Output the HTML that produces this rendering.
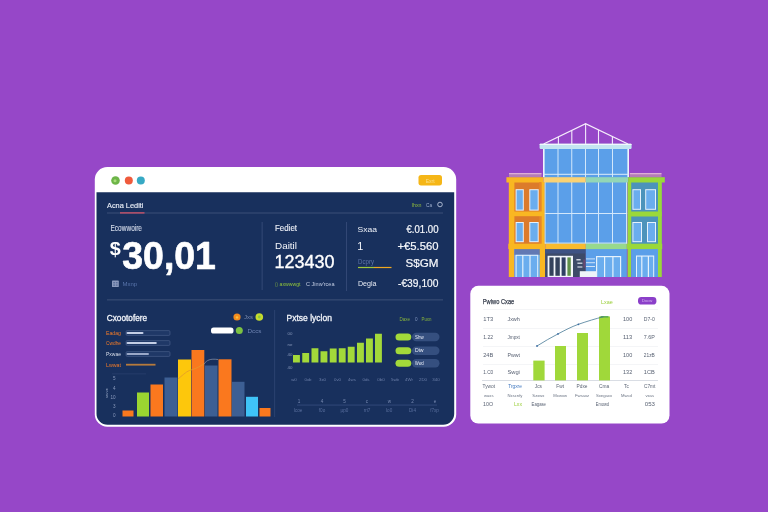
<!DOCTYPE html>
<html lang="en">
<head>
<meta charset="utf-8">
<title>Dashboard illustration</title>
<style>
  html, body { margin: 0; padding: 0; }
  body { width: 768px; height: 512px; overflow: hidden; background: #9647c8; }
  svg { display: block; position: absolute; left: 0; top: 0; }
  text { font-family: "Liberation Sans", sans-serif; }
</style>
</head>
<body>
<svg width="768" height="512" viewBox="0 0 768 512">
  <rect x="0" y="0" width="768" height="512" fill="#9647c8"/>

  <!-- ================= MAIN WINDOW ================= -->
  <g id="main-window">
    <rect x="94.8" y="167" width="361.4" height="259.7" rx="12.5" ry="12.5" fill="#ffffff"/>
    <path d="M96.5 192.2 H454.2 V413.7 a11 11 0 0 1 -11 11 H107.5 a11 11 0 0 1 -11 -11 Z" fill="#18305d"/>
    <!-- traffic lights -->
    <circle cx="115.5" cy="180.5" r="4.3" fill="#6db548"/>
    <circle cx="115" cy="180.8" r="1.5" fill="#a8dc7a"/>
    <circle cx="128.8" cy="180.5" r="4" fill="#ef5a3c"/>
    <circle cx="140.8" cy="180.5" r="4" fill="#37a9c4"/>
    <!-- yellow button -->
    <rect x="418.5" y="175" width="23.5" height="10.4" rx="2.6" fill="#f5b617"/>
    <text x="430.2" y="183" font-size="5" fill="#fbe08a" text-anchor="middle">Exrt</text>

    <!-- tab row -->
    <text x="107" y="207.8" font-size="7.4" fill="#e6ebf5" stroke="#e6ebf5" stroke-width="0.15" textLength="36.5" lengthAdjust="spacingAndGlyphs">Acna Lediti</text>
    <rect x="107" y="212.6" width="336" height="0.8" fill="#44577f"/>
    <rect x="120" y="212.3" width="24.5" height="1.2" fill="#e0566a"/>
    <text x="411.5" y="206.5" font-size="5.5" fill="#8fbb3c" textLength="10" lengthAdjust="spacingAndGlyphs">Ihxn</text>
    <text x="426" y="206.5" font-size="5.5" fill="#9fb0cf" textLength="6" lengthAdjust="spacingAndGlyphs">Ca</text>
    <circle cx="440" cy="204.5" r="2.3" fill="none" stroke="#c9d3e6" stroke-width="0.8"/>

    <!-- top-left stat -->
    <text x="110.5" y="231" font-size="8.2" fill="#d3dae9" stroke="#d3dae9" stroke-width="0.12" textLength="31.5" lengthAdjust="spacingAndGlyphs">Ecowwoire</text>
    <text x="109.8" y="254.8" font-size="19" font-weight="700" fill="#ffffff" textLength="11" lengthAdjust="spacingAndGlyphs">$</text>
    <text x="122.3" y="269" font-size="39" font-weight="700" fill="#ffffff" stroke="#ffffff" stroke-width="0.7" stroke-linejoin="round" textLength="93.6" lengthAdjust="spacingAndGlyphs">30,01</text>
    <rect x="112" y="280.6" width="6.8" height="6.4" rx="0.6" fill="#8b9abd"/>
    <rect x="113.2" y="282" width="1.8" height="1.4" fill="#5b6f9c"/>
    <rect x="115.8" y="282" width="1.8" height="1.4" fill="#5b6f9c"/>
    <rect x="113.2" y="284.4" width="1.8" height="1.4" fill="#5b6f9c"/>
    <rect x="115.8" y="284.4" width="1.8" height="1.4" fill="#5b6f9c"/>
    <text x="122.5" y="286" font-size="5.8" fill="#5874ab" textLength="14.6" lengthAdjust="spacingAndGlyphs">Mxnp</text>
    <rect x="261.7" y="222" width="0.8" height="68" fill="#3a4f7c"/>

    <!-- top-middle stat -->
    <text x="275" y="231.3" font-size="8.2" fill="#eef1f8" stroke="#eef1f8" stroke-width="0.12" textLength="22" lengthAdjust="spacingAndGlyphs">Fediet</text>
    <text x="275" y="248.8" font-size="9.2" fill="#f4f6fb" textLength="22" lengthAdjust="spacingAndGlyphs">Daitil</text>
    <text x="274.5" y="268" font-size="17.5" fill="#ffffff" stroke="#ffffff" stroke-width="0.35" textLength="60" lengthAdjust="spacingAndGlyphs">123430</text>
    <text x="275" y="285.5" font-size="5" fill="#8fc43a" textLength="25.5" lengthAdjust="spacingAndGlyphs">▯ axwwwgt</text>
    <text x="306" y="285.5" font-size="5" fill="#c3cde3" textLength="28.5" lengthAdjust="spacingAndGlyphs">C Jinw'rcea</text>
    <rect x="346.1" y="222" width="0.8" height="69" fill="#3a4f7c"/>

    <!-- top-right stat -->
    <text x="357.5" y="231.5" font-size="7.8" fill="#eef1f8" textLength="19.5" lengthAdjust="spacingAndGlyphs">Sxaa</text>
    <text x="438.5" y="232.5" font-size="10.6" fill="#f6f8fc" stroke="#f6f8fc" stroke-width="0.2" text-anchor="end" textLength="32" lengthAdjust="spacingAndGlyphs">€.01.00</text>
    <text x="357.3" y="249.7" font-size="10.8" fill="#f4f6fb">1</text>
    <text x="438.5" y="249.8" font-size="10.6" fill="#f6f8fc" stroke="#f6f8fc" stroke-width="0.2" text-anchor="end" textLength="41" lengthAdjust="spacingAndGlyphs">+€5.560</text>
    <text x="358" y="264" font-size="6.4" fill="#5e74a6" textLength="16" lengthAdjust="spacingAndGlyphs">Dcpry</text>
    <rect x="358" y="266.9" width="16" height="1.2" fill="#a2c83a"/>
    <rect x="374" y="266.9" width="17.5" height="1.2" fill="#f0a820"/>
    <text x="438.5" y="267" font-size="10.6" fill="#f6f8fc" stroke="#f6f8fc" stroke-width="0.2" text-anchor="end" textLength="33" lengthAdjust="spacingAndGlyphs">S$GM</text>
    <text x="358" y="286.3" font-size="7.6" fill="#e8ecf5" textLength="18.5" lengthAdjust="spacingAndGlyphs">Degla</text>
    <text x="438.5" y="287.3" font-size="10.6" fill="#f6f8fc" stroke="#f6f8fc" stroke-width="0.2" text-anchor="end" textLength="40.5" lengthAdjust="spacingAndGlyphs">-€39,100</text>

    <!-- horizontal divider -->
    <rect x="107" y="299.5" width="336" height="0.8" fill="#46597f"/>
    <rect x="274.3" y="310" width="0.8" height="107" fill="#2f4676"/>

    <!-- bottom-left panel -->
    <text x="106.8" y="320.6" font-size="8.3" fill="#f0f3f9" stroke="#f0f3f9" stroke-width="0.3" textLength="40.3" lengthAdjust="spacingAndGlyphs">Cxootofere</text>
    <circle cx="237" cy="317" r="3.6" fill="#f28a1e"/>
    <circle cx="237" cy="317.4" r="1.2" fill="#f8c23a"/>
    <text x="244" y="319.3" font-size="5.4" fill="#7787ab" textLength="9" lengthAdjust="spacingAndGlyphs">Jxs</text>
    <circle cx="259.3" cy="317" r="3.8" fill="#c4dc2e"/>
    <circle cx="259.3" cy="317" r="1.4" fill="#8cc63f"/>
    <rect x="211" y="327.5" width="22.5" height="6" rx="2.6" fill="#ffffff"/>
    <circle cx="239.3" cy="330.5" r="3.5" fill="#7cc242"/>
    <text x="247.5" y="332.5" font-size="5.4" fill="#6f84b3" textLength="14" lengthAdjust="spacingAndGlyphs">Dccs</text>
    <text x="106" y="335" font-size="5.6" fill="#f07a28" textLength="15" lengthAdjust="spacingAndGlyphs">Eadag</text>
    <rect x="126" y="330.6" width="44" height="4.8" rx="1.2" fill="#1f3867" stroke="#566b97" stroke-width="0.5"/>
    <rect x="126.5" y="332" width="17.0" height="2" rx="1" fill="#c4cfe6"/>
    <text x="106" y="345" font-size="5.6" fill="#f07a28" textLength="15" lengthAdjust="spacingAndGlyphs">Cwdhe</text>
    <rect x="126" y="340.6" width="44" height="4.8" rx="1.2" fill="#1f3867" stroke="#566b97" stroke-width="0.5"/>
    <rect x="126.5" y="342" width="30.30000000000001" height="2" rx="1" fill="#c4cfe6"/>
    <text x="106" y="356" font-size="5.6" fill="#d9deea" textLength="15" lengthAdjust="spacingAndGlyphs">Pxwae</text>
    <rect x="126" y="351.6" width="44" height="4.8" rx="1.2" fill="#1f3867" stroke="#566b97" stroke-width="0.5"/>
    <rect x="126.5" y="353" width="22.5" height="2" rx="1" fill="#9aa8c8"/>
    <text x="106" y="366.8" font-size="5.6" fill="#f07a28" textLength="15" lengthAdjust="spacingAndGlyphs">Lwwat</text>
    <rect x="126" y="363.8" width="29.5" height="1.8" fill="#b57a3c"/>
    <rect x="112" y="373.6" width="34" height="0.6" fill="#2e4573"/>
    <text x="115.5" y="380.3" font-size="4.6" fill="#8a9abd" text-anchor="end">5</text>
    <text x="115.5" y="389.8" font-size="4.6" fill="#8a9abd" text-anchor="end">4</text>
    <text x="115.5" y="398.8" font-size="4.6" fill="#8a9abd" text-anchor="end">10</text>
    <text x="115.5" y="407.8" font-size="4.6" fill="#8a9abd" text-anchor="end">3</text>
    <text x="115.5" y="417.3" font-size="4.6" fill="#8a9abd" text-anchor="end">0</text>
    <text transform="translate(107.6 398) rotate(-90)" font-size="3.6" fill="#9aa8c6">ssvvw</text>
    <rect x="122.5" y="410.5" width="11.0" height="6.0" fill="#fa781e"/>
    <rect x="137" y="392.5" width="12.0" height="24.0" fill="#9bd531"/>
    <rect x="150.5" y="384.5" width="12.5" height="32.0" fill="#fa781e"/>
    <rect x="164.5" y="377.5" width="13.0" height="39.0" fill="#3d5f94"/>
    <rect x="178" y="359.5" width="13.0" height="57.0" fill="#fdc70c"/>
    <rect x="191.5" y="350" width="12.8" height="66.5" fill="#fa781e"/>
    <rect x="205" y="365.5" width="12.5" height="51.0" fill="#3d5f94"/>
    <rect x="218.5" y="359.3" width="13.0" height="57.2" fill="#fa781e"/>
    <rect x="232" y="381.8" width="12.5" height="34.7" fill="#3d5f94"/>
    <rect x="246" y="396.8" width="12.0" height="19.7" fill="#3fc3f7"/>
    <rect x="259.5" y="408" width="11.0" height="8.5" fill="#fa781e"/>
    <path d="M178 379 C184 374 187 371 191 370 C198 368 200 366 204 364" fill="none" stroke="#e39a2c" stroke-width="0.8"/>
    <path d="M204 364 C207 360 210 358.5 218 359.5" fill="none" stroke="#8e97aa" stroke-width="0.7"/>

    <!-- bottom-right panel -->
    <text x="286.5" y="320.6" font-size="8.3" fill="#f0f3f9" stroke="#f0f3f9" stroke-width="0.3" textLength="45.5" lengthAdjust="spacingAndGlyphs">Pxtse lyclon</text>
    <text x="399.5" y="320.5" font-size="4.6" fill="#86b33c" textLength="10.5" lengthAdjust="spacingAndGlyphs">Daxe</text>
    <text x="415" y="320.5" font-size="4.6" fill="#7f93bd">0</text>
    <text x="421.5" y="320.5" font-size="4.6" fill="#86b33c" textLength="10" lengthAdjust="spacingAndGlyphs">Puxn</text>
    <text x="287.5" y="335.1" font-size="4.4" fill="#8595b8">00</text>
    <text x="287.5" y="345.6" font-size="4.4" fill="#8595b8">ne</text>
    <text x="287.5" y="356.1" font-size="4.4" fill="#8595b8">40</text>
    <text x="287.5" y="369.1" font-size="4.4" fill="#8595b8">40</text>
    <rect x="293" y="355" width="6.9" height="7.50" fill="#a3d93a"/>
    <rect x="302.25" y="353" width="6.9" height="9.50" fill="#a3d93a"/>
    <rect x="311.5" y="348.25" width="6.9" height="14.25" fill="#a3d93a"/>
    <rect x="320.5" y="351.25" width="6.9" height="11.25" fill="#a3d93a"/>
    <rect x="329.75" y="348.5" width="6.9" height="14.00" fill="#a3d93a"/>
    <rect x="338.75" y="348.25" width="6.9" height="14.25" fill="#a3d93a"/>
    <rect x="347.75" y="346.75" width="6.9" height="15.75" fill="#a3d93a"/>
    <rect x="357" y="342.75" width="6.9" height="19.75" fill="#a3d93a"/>
    <rect x="366" y="338.5" width="6.9" height="24.00" fill="#a3d93a"/>
    <rect x="375" y="333.75" width="6.9" height="28.75" fill="#a3d93a"/>
    <rect x="412" y="332.8" width="27.5" height="8.4" rx="4.2" fill="#354f7f"/>
    <rect x="395.5" y="333.4" width="15.8" height="7.2" rx="3.6" fill="#a3d93a"/>
    <text x="415" y="338.6" font-size="4.6" fill="#e8edf7" textLength="8.6" lengthAdjust="spacingAndGlyphs">Shw</text>
    <rect x="412" y="346.55" width="27.5" height="8.4" rx="4.2" fill="#354f7f"/>
    <rect x="395.5" y="347.15" width="15.8" height="7.2" rx="3.6" fill="#a3d93a"/>
    <text x="415" y="352.35" font-size="4.6" fill="#e8edf7" textLength="8.6" lengthAdjust="spacingAndGlyphs">Diw</text>
    <rect x="412" y="359.05" width="27.5" height="8.4" rx="4.2" fill="#354f7f"/>
    <rect x="395.5" y="359.65" width="15.8" height="7.2" rx="3.6" fill="#a3d93a"/>
    <text x="415" y="364.85" font-size="4.6" fill="#e8edf7" textLength="8.6" lengthAdjust="spacingAndGlyphs">Wwd</text>
    <text x="294" y="381.2" font-size="4.4" fill="#6b7ea8" text-anchor="middle">w0</text>
    <text x="308" y="381.2" font-size="4.4" fill="#6b7ea8" text-anchor="middle">0xb</text>
    <text x="322.5" y="381.2" font-size="4.4" fill="#6b7ea8" text-anchor="middle">3x0</text>
    <text x="337.5" y="381.2" font-size="4.4" fill="#6b7ea8" text-anchor="middle">0v0</text>
    <text x="352" y="381.2" font-size="4.4" fill="#6b7ea8" text-anchor="middle">4ws</text>
    <text x="366" y="381.2" font-size="4.4" fill="#6b7ea8" text-anchor="middle">0ds</text>
    <text x="381" y="381.2" font-size="4.4" fill="#6b7ea8" text-anchor="middle">0b0</text>
    <text x="395" y="381.2" font-size="4.4" fill="#6b7ea8" text-anchor="middle">5wb</text>
    <text x="409" y="381.2" font-size="4.4" fill="#6b7ea8" text-anchor="middle">4Wr</text>
    <text x="423" y="381.2" font-size="4.4" fill="#6b7ea8" text-anchor="middle">2D0</text>
    <text x="436" y="381.2" font-size="4.4" fill="#6b7ea8" text-anchor="middle">340</text>
    <rect x="297" y="404.7" width="140" height="0.7" fill="#3c5386"/>
    <text x="299" y="403" font-size="4.6" fill="#7789b1" text-anchor="middle">1</text>
    <text x="322" y="403" font-size="4.6" fill="#7789b1" text-anchor="middle">4</text>
    <text x="344.5" y="403" font-size="4.6" fill="#7789b1" text-anchor="middle">5</text>
    <text x="367" y="403" font-size="4.6" fill="#7789b1" text-anchor="middle">c</text>
    <text x="389.5" y="403" font-size="4.6" fill="#7789b1" text-anchor="middle">w</text>
    <text x="412.5" y="403" font-size="4.6" fill="#7789b1" text-anchor="middle">2</text>
    <text x="435" y="403" font-size="4.6" fill="#7789b1" text-anchor="middle">e</text>
    <text x="298" y="411.8" font-size="4.6" fill="#586d9c" text-anchor="middle">Icoe</text>
    <text x="322" y="411.8" font-size="4.6" fill="#586d9c" text-anchor="middle">f0o</text>
    <text x="344.5" y="411.8" font-size="4.6" fill="#586d9c" text-anchor="middle">µp0</text>
    <text x="367" y="411.8" font-size="4.6" fill="#586d9c" text-anchor="middle">rri7</text>
    <text x="389" y="411.8" font-size="4.6" fill="#586d9c" text-anchor="middle">Io0</text>
    <text x="412.5" y="411.8" font-size="4.6" fill="#586d9c" text-anchor="middle">Di4</text>
    <text x="434.5" y="411.8" font-size="4.6" fill="#586d9c" text-anchor="middle">f7xp</text>
  </g>

  <!-- ================= BUILDING ================= -->
  <g id="building">
    <path d="M543.6 144 L585.6 123.6 L628 144" fill="none" stroke="#f6eefc" stroke-width="1.25"/>
    <rect x="557.85" y="136.8" width="1.1" height="7.2" fill="#f3e9fb"/>
    <rect x="571.25" y="130.3" width="1.1" height="13.7" fill="#f3e9fb"/>
    <rect x="585.05" y="123.6" width="1.1" height="20.4" fill="#f3e9fb"/>
    <rect x="597.95" y="129.8" width="1.1" height="14.2" fill="#f3e9fb"/>
    <rect x="611.85" y="136.5" width="1.1" height="7.5" fill="#f3e9fb"/>
    <rect x="543" y="148" width="86" height="30" fill="#5b9fe9"/>
    <rect x="557.5" y="148" width="1" height="29" fill="#d2e7fb"/>
    <rect x="571.25" y="148" width="1" height="29" fill="#d2e7fb"/>
    <rect x="585.0" y="148" width="1" height="29" fill="#d2e7fb"/>
    <rect x="598.0" y="148" width="1" height="29" fill="#d2e7fb"/>
    <rect x="612.0" y="148" width="1" height="29" fill="#d2e7fb"/>
    <rect x="543" y="148" width="1.6" height="29" fill="#eef6fd"/>
    <rect x="627.4" y="148" width="1.6" height="29" fill="#eef6fd"/>
    <rect x="543" y="173.8" width="86" height="1" fill="#dcedfb"/>
    <rect x="539.6" y="143.7" width="92" height="5.2" rx="0.8" fill="#c4e5f1"/>
    <rect x="539.6" y="143.7" width="92" height="1.3" rx="0.6" fill="#f1f8fc"/>
    <rect x="509" y="173.4" width="32.5" height="3.6" fill="#b57db6"/>
    <rect x="509" y="173.2" width="32.5" height="1" fill="#ecc0dc"/>
    <rect x="629.8" y="173.4" width="31.7" height="3.6" fill="#b57db6"/>
    <rect x="629.8" y="173.2" width="31.7" height="1" fill="#ecc0dc"/>
    <rect x="509" y="182" width="35.5" height="62" fill="#dc7b2b"/>
    <rect x="628" y="182" width="33.6" height="62" fill="#4c93bb"/>
    <rect x="544.5" y="182" width="82.7" height="62" fill="#5b9fe9"/>
    <rect x="557.5" y="182" width="1" height="61.5" fill="#d2e7fb"/>
    <rect x="571.25" y="182" width="1" height="61.5" fill="#d2e7fb"/>
    <rect x="585.0" y="182" width="1" height="61.5" fill="#d2e7fb"/>
    <rect x="598.0" y="182" width="1" height="61.5" fill="#d2e7fb"/>
    <rect x="612.0" y="182" width="1" height="61.5" fill="#d2e7fb"/>
    <rect x="544.5" y="213" width="82.7" height="1" fill="#d2e7fb"/>
    <rect x="544.5" y="242.6" width="82.7" height="1.1" fill="#dcedfb"/>
    <rect x="544.4" y="182" width="1.1" height="62" fill="#dcedfb"/>
    <rect x="626.1" y="182" width="1.1" height="62" fill="#dcedfb"/>
    <rect x="506.4" y="177.2" width="37.2" height="5.3" fill="#f9b722"/>
    <rect x="543.6" y="177.2" width="42.2" height="5.3" fill="#fbd273"/>
    <rect x="585.8" y="177.2" width="42.4" height="5.3" fill="#93d6b6"/>
    <rect x="628.2" y="177.2" width="36.6" height="5.3" fill="#9ad83a"/>
    <rect x="508.8" y="182" width="5.6" height="95" fill="#f9b722"/>
    <rect x="539.2" y="182" width="2.4" height="62" fill="#e8862a"/>
    <rect x="541.6" y="182" width="2.9" height="62" fill="#f9b722"/>
    <rect x="509" y="211.5" width="35" height="4.7" fill="#f9b722"/>
    <rect x="515.6" y="189.2" width="8.2" height="21.4" fill="#e6f2fc"/>
    <rect x="516.6" y="190.2" width="6.2" height="19.4" fill="#6aadee"/>
    <rect x="529.3" y="189.2" width="9.4" height="21.4" fill="#e6f2fc"/>
    <rect x="530.3" y="190.2" width="7.4" height="19.4" fill="#6aadee"/>
    <rect x="515.6" y="222" width="8.2" height="20.2" fill="#e6f2fc"/>
    <rect x="516.6" y="223" width="6.2" height="18.2" fill="#6aadee"/>
    <rect x="529.3" y="222" width="9.4" height="20.2" fill="#e6f2fc"/>
    <rect x="530.3" y="223" width="7.4" height="18.2" fill="#6aadee"/>
    <rect x="627.6" y="182" width="3.6" height="95" fill="#9ad83a"/>
    <rect x="658" y="182" width="3.8" height="95" fill="#9ad83a"/>
    <rect x="628" y="211.5" width="33.6" height="5" fill="#9ad83a"/>
    <rect x="632.4" y="189.2" width="8.6" height="20.6" fill="#e6f2fc"/>
    <rect x="633.4" y="190.2" width="6.6" height="18.6" fill="#6aadee"/>
    <rect x="645.2" y="189.2" width="10.8" height="20.6" fill="#e6f2fc"/>
    <rect x="646.2" y="190.2" width="8.8" height="18.6" fill="#6aadee"/>
    <rect x="632.4" y="222" width="9.6" height="20.2" fill="#e6f2fc"/>
    <rect x="633.4" y="223" width="7.6" height="18.2" fill="#6aadee"/>
    <rect x="647" y="222" width="9.0" height="20.2" fill="#e6f2fc"/>
    <rect x="648" y="223" width="7.0" height="18.2" fill="#6aadee"/>
    <rect x="514.4" y="249" width="25.6" height="28" fill="#6aadee"/>
    <rect x="514.4" y="249" width="25.6" height="5.8" fill="#6279b3"/>
    <rect x="515.6" y="254.8" width="22.6" height="22.2" fill="#e6f2fc"/>
    <rect x="516.6" y="255.8" width="5.6" height="21.2" fill="#6aadee"/>
    <rect x="523.4" y="255.8" width="6.0" height="21.2" fill="#6aadee"/>
    <rect x="530.6" y="255.8" width="6.6" height="21.2" fill="#6aadee"/>
    <rect x="539.8" y="249" width="5.3" height="28" fill="#f9b722"/>
    <rect x="545.1" y="249" width="40.7" height="28" fill="#3d4b69"/>
    <rect x="545.1" y="249" width="40.7" height="4.5" fill="#3e5384"/>
    <rect x="547.6" y="255.8" width="25.4" height="21.2" fill="#f2f6fa"/>
    <rect x="549.4" y="257.4" width="4.2" height="18.4" fill="#33425c"/>
    <rect x="555.4" y="257.4" width="4.4" height="18.4" fill="#33425c"/>
    <rect x="561.6" y="257.4" width="4.0" height="18.4" fill="#2f3f63"/>
    <rect x="567.4" y="257.4" width="3.4" height="18.4" fill="#5f8f4a"/>
    <rect x="585.8" y="249" width="41" height="28" fill="#5b9fe9"/>
    <rect x="576.4" y="259.2" width="4.2" height="1.2" fill="#eef3f9"/>
    <rect x="577.4" y="262.6" width="5" height="1.2" fill="#dfe6f0"/>
    <rect x="577.4" y="266.4" width="5" height="1.2" fill="#cfd8e6"/>
    <rect x="583.6" y="259.5" width="1" height="8" fill="#8a4a78"/>
    <rect x="586" y="258.4" width="9" height="1" fill="#cfe3f8"/>
    <rect x="586" y="262.2" width="9" height="1" fill="#cfe3f8"/>
    <rect x="586" y="266" width="9" height="1" fill="#cfe3f8"/>
    <rect x="579.8" y="271.2" width="16.4" height="5.8" fill="#eef3f9"/>
    <rect x="596" y="256" width="25.2" height="21" fill="#e6f2fc"/>
    <rect x="597.2" y="257.2" width="6.8" height="19.8" fill="#6aadee"/>
    <rect x="605.2" y="257.2" width="7.1" height="19.8" fill="#6aadee"/>
    <rect x="613.5" y="257.2" width="6.5" height="19.8" fill="#6aadee"/>
    <rect x="631.2" y="249" width="26.8" height="28" fill="#5b9fe9"/>
    <rect x="636" y="255.5" width="18.2" height="21.5" fill="#e6f2fc"/>
    <rect x="637" y="256.6" width="4.2" height="20.4" fill="#6aadee"/>
    <rect x="642.4" y="256.6" width="5.4" height="20.4" fill="#6aadee"/>
    <rect x="649" y="256.6" width="4.2" height="20.4" fill="#6aadee"/>
    <rect x="508.3" y="243.7" width="37.2" height="5.4" fill="#f9b722"/>
    <rect x="545.5" y="243.7" width="40.3" height="5.4" fill="#fabb2e"/>
    <rect x="585.8" y="243.7" width="41" height="5.4" fill="#98d98c"/>
    <rect x="626.8" y="243.7" width="35.4" height="5.4" fill="#9ad83a"/>
  </g>

  <!-- ================= SIDE CARD ================= -->
  <g id="side-card">
    <rect x="470.3" y="285.8" width="199.2" height="137.8" rx="8" fill="#ffffff"/>
    <text x="482.8" y="304" font-size="7.6" fill="#363d4c" stroke="#363d4c" stroke-width="0.25" textLength="31.5" lengthAdjust="spacingAndGlyphs">Pwiwo Cxae</text>
    <text x="601" y="303.5" font-size="5.4" fill="#9bcf3c" textLength="11.7" lengthAdjust="spacingAndGlyphs">Lxae</text>
    <rect x="638" y="297.1" width="18.4" height="7.5" rx="3.4" fill="#8b3fc9"/>
    <text x="647.2" y="302.4" font-size="4.2" fill="#d9b9f2" text-anchor="middle">Dxcw</text>
    <rect x="483" y="309.3" width="175" height="0.6" fill="#eceef2"/>
    <rect x="483" y="328.09999999999997" width="175" height="0.6" fill="#eceef2"/>
    <rect x="483" y="346.09999999999997" width="175" height="0.6" fill="#eceef2"/>
    <rect x="483" y="364.3" width="175" height="0.6" fill="#eceef2"/>
    <rect x="482" y="380.1" width="176" height="0.7" fill="#c9ced8"/>
    <text x="483.2" y="320.6" font-size="5.6" fill="#596273" textLength="10" lengthAdjust="spacingAndGlyphs">1T3</text>
    <text x="507.4" y="320.6" font-size="5.6" fill="#596273" textLength="12.5" lengthAdjust="spacingAndGlyphs">Jxwh</text>
    <text x="623" y="320.6" font-size="5.6" fill="#596273" textLength="9.2" lengthAdjust="spacingAndGlyphs">100</text>
    <text x="643.8" y="320.6" font-size="5.6" fill="#596273" textLength="11" lengthAdjust="spacingAndGlyphs">D7-0</text>
    <text x="483.2" y="338.8" font-size="5.6" fill="#596273" textLength="10" lengthAdjust="spacingAndGlyphs">1.22</text>
    <text x="507.4" y="338.8" font-size="5.6" fill="#596273" textLength="12.5" lengthAdjust="spacingAndGlyphs">Jmpxt</text>
    <text x="623" y="338.8" font-size="5.6" fill="#596273" textLength="9.2" lengthAdjust="spacingAndGlyphs">113</text>
    <text x="643.8" y="338.8" font-size="5.6" fill="#596273" textLength="11" lengthAdjust="spacingAndGlyphs">7.6P</text>
    <text x="483.2" y="357.2" font-size="5.6" fill="#596273" textLength="10" lengthAdjust="spacingAndGlyphs">24B</text>
    <text x="507.4" y="357.2" font-size="5.6" fill="#596273" textLength="12.5" lengthAdjust="spacingAndGlyphs">Pwwt</text>
    <text x="623" y="357.2" font-size="5.6" fill="#596273" textLength="9.2" lengthAdjust="spacingAndGlyphs">100</text>
    <text x="643.8" y="357.2" font-size="5.6" fill="#596273" textLength="11" lengthAdjust="spacingAndGlyphs">21zB</text>
    <text x="483.2" y="373.9" font-size="5.6" fill="#596273" textLength="10" lengthAdjust="spacingAndGlyphs">1.C0</text>
    <text x="507.4" y="373.9" font-size="5.6" fill="#596273" textLength="12.5" lengthAdjust="spacingAndGlyphs">Swgi</text>
    <text x="623" y="373.9" font-size="5.6" fill="#596273" textLength="9.2" lengthAdjust="spacingAndGlyphs">132</text>
    <text x="643.8" y="373.9" font-size="5.6" fill="#596273" textLength="11" lengthAdjust="spacingAndGlyphs">1CB</text>
    <rect x="533.3" y="360.6" width="11.3" height="19.8" fill="#a0d83a"/>
    <rect x="555" y="346" width="11.0" height="34.4" fill="#a0d83a"/>
    <rect x="577" y="333" width="11.0" height="47.4" fill="#a0d83a"/>
    <rect x="599" y="316.5" width="11.0" height="63.9" fill="#a0d83a"/>
    <rect x="600.5" y="316.2" width="8" height="1.3" fill="#4aa04a"/>
    <path d="M537 346 C544 341.5 551 337.6 558 333.9 C565 330.2 571 327 578.4 324.3 C587 321.3 596 318.6 603.5 316.7" fill="none" stroke="#3c7190" stroke-width="0.75"/>
    <circle cx="537" cy="346" r="0.9" fill="#3b6ea5"/>
    <circle cx="558" cy="333.9" r="0.9" fill="#3b6ea5"/>
    <circle cx="578.4" cy="324.3" r="0.9" fill="#3b6ea5"/>
    <text x="488.8" y="388" font-size="4.8" fill="#5b6474" text-anchor="middle">Tywot</text>
    <text x="515" y="388" font-size="4.8" fill="#3f77c0" text-anchor="middle">Trgxre</text>
    <text x="538.4" y="388" font-size="4.8" fill="#5b6474" text-anchor="middle">Jcs</text>
    <text x="560.2" y="388" font-size="4.8" fill="#5b6474" text-anchor="middle">Fwt</text>
    <text x="582" y="388" font-size="4.8" fill="#5b6474" text-anchor="middle">Pdxe</text>
    <text x="604" y="388" font-size="4.8" fill="#5b6474" text-anchor="middle">Cma</text>
    <text x="626.4" y="388" font-size="4.8" fill="#5b6474" text-anchor="middle">Tc</text>
    <text x="649.7" y="388" font-size="4.8" fill="#5b6474" text-anchor="middle">C7mt</text>
    <text x="488.8" y="397" font-size="4.2" fill="#6a7383" text-anchor="middle">waxs</text>
    <text x="515" y="397" font-size="4.2" fill="#6a7383" text-anchor="middle">Nxscnfy</text>
    <text x="538.4" y="397" font-size="4.2" fill="#6a7383" text-anchor="middle">Szxwx</text>
    <text x="560.2" y="397" font-size="4.2" fill="#6a7383" text-anchor="middle">Mxwxw</text>
    <text x="582" y="397" font-size="4.2" fill="#6a7383" text-anchor="middle">Fwsaxz</text>
    <text x="604" y="397" font-size="4.2" fill="#6a7383" text-anchor="middle">Sxegaxx</text>
    <text x="626.4" y="397" font-size="4.2" fill="#6a7383" text-anchor="middle">Mwcd</text>
    <text x="649.7" y="397" font-size="4.2" fill="#6a7383" text-anchor="middle">vxas</text>
    <text x="483" y="406.4" font-size="5" fill="#596273" textLength="10" lengthAdjust="spacingAndGlyphs">10O</text>
    <text x="514" y="406.4" font-size="4.8" fill="#9bcf3c" textLength="8" lengthAdjust="spacingAndGlyphs">Lxx</text>
    <text x="531.6" y="406.4" font-size="4.8" fill="#596273" textLength="14.4" lengthAdjust="spacingAndGlyphs">Eagase</text>
    <text x="595.8" y="406.4" font-size="4.8" fill="#596273" textLength="13.2" lengthAdjust="spacingAndGlyphs">Emowd</text>
    <text x="644.8" y="406.4" font-size="5" fill="#596273" textLength="10.2" lengthAdjust="spacingAndGlyphs">053</text>
  </g>
</svg>
</body>
</html>
